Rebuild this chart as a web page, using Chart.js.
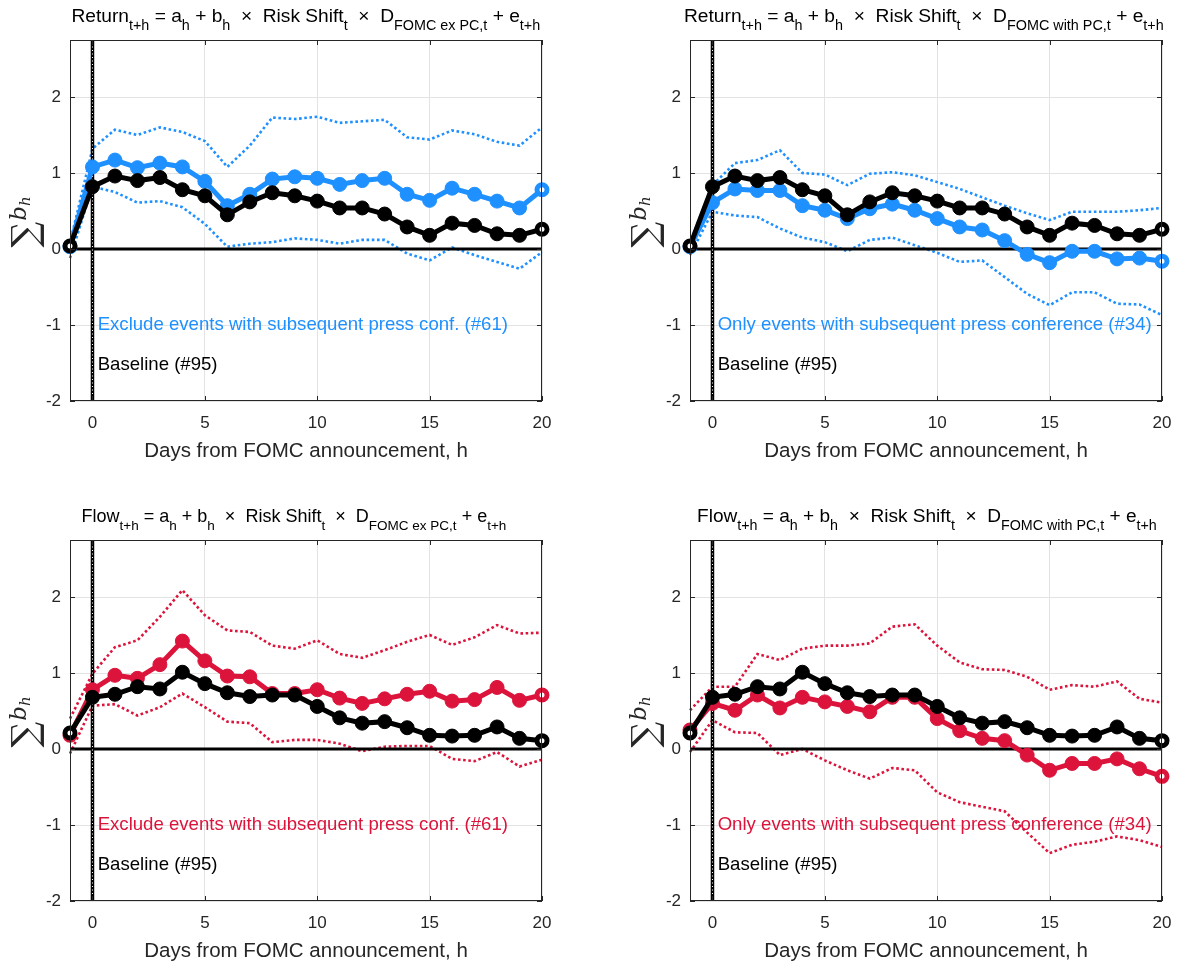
<!DOCTYPE html>
<html><head><meta charset="utf-8">
<script src="https://cdn.jsdelivr.net/npm/chart.js@4.4.0/dist/chart.umd.min.js"></script>
<style>
html,body{margin:0;padding:0;background:#fff;}
#wrap{position:relative;width:1178px;height:964px;overflow:hidden;}
canvas{position:absolute;}
</style></head><body>
<div id="wrap">
<canvas id="c1" width="620" height="482" style="left:0;top:0"></canvas>
<canvas id="c2" width="620" height="482" style="left:620px;top:0"></canvas>
<canvas id="c3" width="620" height="482" style="left:0;top:500px"></canvas>
<canvas id="c4" width="620" height="482" style="left:620px;top:500px"></canvas>
</div>
<script>
// ---- data ----
const horizons = [-1,0,1,2,3,4,5,6,7,8,9,10,11,12,13,14,15,16,17,18,19,20];
const xTickValues = [0,5,10,15,20];
const yTickValues = [-2,-1,0,1,2];

const retBaseline   = [0.04,0.82,0.96,0.90,0.94,0.78,0.70,0.45,0.62,0.74,0.70,0.63,0.54,0.54,0.46,0.29,0.18,0.34,0.31,0.20,0.18,0.26];
const retExPC       = [0.03,1.08,1.17,1.07,1.13,1.08,0.89,0.57,0.72,0.92,0.95,0.93,0.85,0.90,0.93,0.72,0.64,0.80,0.72,0.63,0.54,0.78];
const retExPCUpper  = [0.08,1.32,1.57,1.50,1.60,1.54,1.42,1.08,1.36,1.73,1.71,1.74,1.66,1.68,1.70,1.47,1.44,1.56,1.51,1.41,1.36,1.60];
const retExPCLower  = [-0.12,0.82,0.75,0.61,0.63,0.55,0.33,0.03,0.07,0.09,0.14,0.12,0.07,0.12,0.12,-0.06,-0.15,0.02,-0.08,-0.17,-0.26,-0.04];
const retWithPC      = [0.03,0.61,0.79,0.77,0.77,0.57,0.51,0.40,0.53,0.59,0.51,0.40,0.29,0.25,0.11,-0.07,-0.18,-0.03,-0.03,-0.13,-0.12,-0.16];
const retWithPCUpper = [0.08,0.84,1.13,1.17,1.30,1.00,0.98,0.84,0.99,1.01,0.97,0.88,0.79,0.68,0.57,0.47,0.38,0.49,0.49,0.49,0.51,0.54];
const retWithPCLower = [-0.08,0.49,0.44,0.42,0.27,0.15,0.09,-0.03,0.12,0.15,0.05,-0.05,-0.17,-0.15,-0.37,-0.59,-0.74,-0.57,-0.57,-0.72,-0.73,-0.87];

const flowBaseline   = [0.21,0.68,0.72,0.82,0.79,1.01,0.86,0.74,0.69,0.71,0.71,0.56,0.41,0.34,0.36,0.28,0.18,0.17,0.18,0.29,0.14,0.11];
const flowExPC       = [0.18,0.78,0.97,0.93,1.11,1.42,1.16,0.96,0.95,0.73,0.73,0.78,0.67,0.60,0.66,0.72,0.76,0.63,0.65,0.81,0.64,0.71];
const flowExPCUpper  = [0.40,0.99,1.34,1.43,1.74,2.09,1.76,1.56,1.54,1.36,1.32,1.43,1.25,1.20,1.30,1.41,1.50,1.37,1.47,1.63,1.52,1.53];
const flowExPCLower  = [-0.06,0.57,0.59,0.44,0.55,0.73,0.55,0.36,0.34,0.09,0.12,0.12,0.07,-0.03,0.03,0.04,0.04,-0.13,-0.16,-0.04,-0.23,-0.14];
const flowWithPC      = [0.25,0.60,0.51,0.71,0.54,0.68,0.62,0.56,0.49,0.68,0.68,0.40,0.24,0.14,0.11,-0.08,-0.28,-0.19,-0.19,-0.13,-0.26,-0.36];
const flowWithPCUpper = [0.51,0.82,0.82,1.25,1.17,1.32,1.36,1.36,1.39,1.61,1.64,1.36,1.14,1.05,1.04,0.95,0.78,0.84,0.82,0.89,0.66,0.61];
const flowWithPCLower = [-0.04,0.38,0.22,0.21,-0.08,0.00,-0.15,-0.28,-0.39,-0.25,-0.28,-0.57,-0.70,-0.76,-0.82,-1.10,-1.37,-1.26,-1.22,-1.15,-1.20,-1.29];

const BLUE = '#1E90FF', RED = '#DC143C', INK = '#262626';
const SANS = '"Liberation Sans", Arial, Helvetica, sans-serif';
const SERIF = '"DejaVu Serif", "Liberation Serif", serif';

const pts = arr => arr.map((v,i)=>({x:horizons[i], y:v}));
const n = horizons.length;
const isEnd = i => i===0 || i===n-1;

function solidSeries(vals, color, order){
  return {
    data: pts(vals), borderColor: color, backgroundColor: color, borderWidth: 5,
    pointRadius: horizons.map((h,i)=>isEnd(i)?5:7),
    pointBorderWidth: horizons.map((h,i)=>isEnd(i)?5:1),
    pointBackgroundColor: horizons.map((h,i)=>isEnd(i)?'#fff':color),
    pointBorderColor: color, order, clip: false, tension: 0
  };
}
function dotted(vals, color){
  return {data: pts(vals), borderColor: color, borderWidth: 2.6, borderDash:[2.6,2.6],
    borderCapStyle:'butt', pointRadius:0, order: 5, clip:false, tension:0};
}

const decor = {
  id: 'decor',
  afterDraw(chart, args, o){
    const ctx = chart.ctx, a = chart.chartArea;
    const xs = chart.scales.x, ys = chart.scales.y;
    ctx.save();
    // box + inward ticks
    ctx.strokeStyle = INK; ctx.lineWidth = 1;
    ctx.strokeRect(a.left+0.5, a.top+0.5, a.right-a.left-1, a.bottom-a.top-1);
    ctx.beginPath();
    xTickValues.forEach(v=>{ const px=Math.round(xs.getPixelForValue(v))+0.5;
      ctx.moveTo(px,a.bottom); ctx.lineTo(px,a.bottom-5);
      ctx.moveTo(px,a.top); ctx.lineTo(px,a.top+5); });
    yTickValues.forEach(v=>{ const py=Math.round(ys.getPixelForValue(v))+0.5;
      ctx.moveTo(a.left,py); ctx.lineTo(a.left+5,py);
      ctx.moveTo(a.right,py); ctx.lineTo(a.right-5,py); });
    ctx.stroke();
    // annotations
    ctx.textBaseline='middle'; ctx.textAlign='left';
    ctx.font = '18.6px '+SANS;
    ctx.fillStyle = o.color;
    ctx.fillText(o.note, xs.getPixelForValue(0.23), ys.getPixelForValue(-1.0));
    ctx.fillStyle = '#000';
    ctx.fillText('Baseline (#95)', xs.getPixelForValue(0.23), ys.getPixelForValue(-1.53));
    // x title
    ctx.fillStyle = INK; ctx.textAlign='center';
    ctx.font = '20.5px '+SANS;
    ctx.fillText('Days from FOMC announcement, h', (a.left+a.right)/2, a.bottom+50);
    // title with subscripts, scaled to target width
    let w = 0;
    o.title.forEach(p=>{ ctx.font = (p[1]?13.5:18)+'px '+SANS; w += ctx.measureText(p[0]).width; });
    const k = o.titleWidth / w;
    const mainF = (18*k).toFixed(2)+'px '+SANS, subF = (13.5*k).toFixed(2)+'px '+SANS;
    let x = o.titleCenter - o.titleWidth/2;
    const base = a.top - 18;
    ctx.textAlign='left'; ctx.textBaseline='alphabetic'; ctx.fillStyle='#000';
    o.title.forEach(p=>{ ctx.font = p[1]?subF:mainF; ctx.fillText(p[0], x, p[1]?base+8:base); x += ctx.measureText(p[0]).width; });
    // y label: sum b_h rotated
    ctx.translate(a.left-33, (a.top+a.bottom)/2 + 27);
    ctx.rotate(-Math.PI/2);
    ctx.fillStyle = INK;
    ctx.font = '36px '+SERIF;
    ctx.fillText('\u2211', 0, 0);
    let sx = ctx.measureText('\u2211').width + 1;
    ctx.font = 'italic 23px '+SERIF;
    ctx.fillText('b', sx, -11);
    sx += ctx.measureText('b').width;
    ctx.font = 'italic 15px '+SERIF;
    ctx.fillText('h', sx, -7);
    ctx.restore();
  }
};

function makePanel(id, base, alt, up, lo, color, note, title, titleCenter, titleWidth){
  const datasets = [
    solidSeries(base, '#000', 0),
    solidSeries(alt, color, 1),
    {data:[{x:0,y:-2},{x:0,y:2.75}], borderColor:'#fff', borderWidth:1, borderDash:[1,2.5], pointRadius:0, order:2},
    {data:[{x:0,y:-2},{x:0,y:2.75}], borderColor:'#000', borderWidth:3.5, pointRadius:0, order:3},
    {data:[{x:-1,y:0},{x:20,y:0}], borderColor:'#000', borderWidth:3, pointRadius:0, order:4},
    dotted(up, color), dotted(lo, color)
  ];
  new Chart(document.getElementById(id), {
    type:'line',
    data:{datasets},
    options:{
      responsive:false, animation:false, events:[],
      layout:{padding:{top:40, right:78, left:0, bottom:0}},
      plugins:{legend:{display:false}, tooltip:{enabled:false},
        decor:{color, note, title, titleCenter, titleWidth}},
      scales:{
        x:{type:'linear', min:-1, max:20,
          afterBuildTicks: s=>{ s.ticks = xTickValues.map(v=>({value:v})); },
          afterFit: s=>{ s.height = 81; },
          grid:{color:'#e3e3e3', drawTicks:false, lineWidth:1},
          border:{display:false},
          ticks:{color:INK, font:{family:SANS, size:17}, padding:12, maxRotation:0}},
        y:{type:'linear', min:-2, max:2.75,
          afterBuildTicks: s=>{ s.ticks = yTickValues.map(v=>({value:v})); },
          afterFit: s=>{ s.width = 70; },
          grid:{color:'#e3e3e3', drawTicks:false, lineWidth:1},
          border:{display:false},
          ticks:{color:INK, font:{family:SANS, size:17}, padding:9}}
      }
    },
    plugins:[decor]
  });
}

const T = (dep, d) => [[dep],['t+h',1],[' = a'],['h',1],[' + b'],['h',1],['  \u00D7  Risk Shift'],['t',1],['  \u00D7  D'],[d,1],[' + e'],['t+h',1]];

makePanel('c1', retBaseline, retExPC, retExPCUpper, retExPCLower, BLUE,
  'Exclude events with subsequent press conf. (#61)', T('Return','FOMC ex PC,t'), 306, 469);
makePanel('c2', retBaseline, retWithPC, retWithPCUpper, retWithPCLower, BLUE,
  'Only events with subsequent press conference (#34)', T('Return','FOMC with PC,t'), 304, 480);
makePanel('c3', flowBaseline, flowExPC, flowExPCUpper, flowExPCLower, RED,
  'Exclude events with subsequent press conf. (#61)', T('Flow','FOMC ex PC,t'), 294, 425);
makePanel('c4', flowBaseline, flowWithPC, flowWithPCUpper, flowWithPCLower, RED,
  'Only events with subsequent press conference (#34)', T('Flow','FOMC with PC,t'), 307, 460);
</script>
</body></html>
